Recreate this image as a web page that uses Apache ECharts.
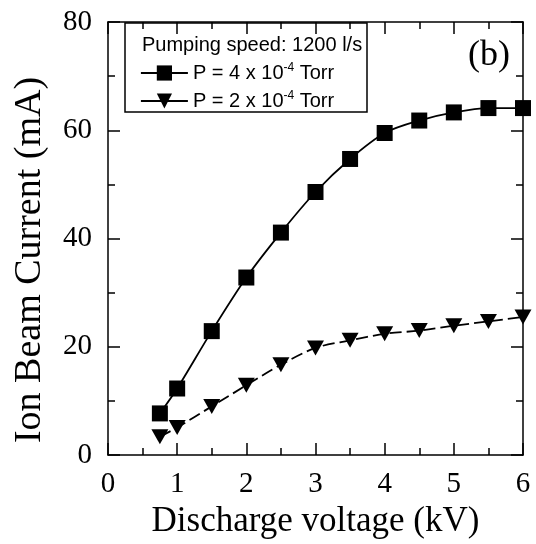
<!DOCTYPE html>
<html>
<head>
<meta charset="utf-8">
<script src="https://cdn.jsdelivr.net/npm/echarts@6/dist/echarts.min.js"></script>
<style>html,body{margin:0;padding:0;background:#fff;}#c{width:536px;height:544px;}</style>
</head>
<body>
<div id="c"></div>
<script>
// Data
var voltage = [0.75, 1, 1.5, 2, 2.5, 3, 3.5, 4, 4.5, 5, 5.5, 6];
var current4e4 = [7.7, 12.3, 22.9, 32.8, 41.1, 48.6, 54.7, 59.5, 61.8, 63.3, 64.1, 64.1];
var current2e4 = [3.4, 5.1, 9.0, 12.9, 16.7, 19.8, 21.2, 22.4, 23.0, 23.9, 24.7, 25.5];
var xTicks = [0, 1, 2, 3, 4, 5, 6];
var yTicks = [0, 20, 40, 60, 80];
var seriesNames = ['P = 4 x 10^-4 Torr', 'P = 2 x 10^-4 Torr'];
var legendTitle = 'Pumping speed: 1200 l/s';
var panelLabel = '(b)';
var xTitle = 'Discharge voltage (kV)';
var yTitle = 'Ion Beam Current (mA)';

function pairs(xs, ys) { return xs.map(function (x, i) { return [x, ys[i]]; }); }

var serif = 'Liberation Serif';
var sans = 'Liberation Sans';
var chart = echarts.init(document.getElementById('c'), null, { renderer: 'canvas' });

var axisCommon = {
  type: 'value',
  axisLine: { show: true, onZero: false, lineStyle: { color: '#000', width: 1.5 } },
  axisTick: { show: true, inside: true, length: 12, lineStyle: { color: '#000', width: 1.5 } },
  minorTick: { show: true, splitNumber: 2, length: 7, lineStyle: { color: '#000', width: 1.5 } },
  splitLine: { show: false }
};

var option = {
  animation: false,
  backgroundColor: '#fff',
  grid: { left: 108, right: 13, top: 22, bottom: 87 },
  xAxis: [
    Object.assign({}, axisCommon, {
      position: 'bottom', min: xTicks[0], max: xTicks[xTicks.length - 1], interval: 1,
      axisLabel: { fontFamily: serif, fontSize: 29, color: '#000', margin: 15 },
      name: xTitle, nameLocation: 'middle', nameGap: 42,
      nameTextStyle: { fontFamily: serif, fontSize: 35, color: '#000' }
    }),
    Object.assign({}, axisCommon, {
      position: 'top', min: xTicks[0], max: xTicks[xTicks.length - 1], interval: 1,
      axisLabel: { show: false }
    })
  ],
  yAxis: [
    Object.assign({}, axisCommon, {
      position: 'left', min: yTicks[0], max: yTicks[yTicks.length - 1], interval: 20,
      axisLabel: { fontFamily: serif, fontSize: 29, color: '#000', margin: 16 }
    }),
    Object.assign({}, axisCommon, {
      position: 'right', min: yTicks[0], max: yTicks[yTicks.length - 1], interval: 20,
      axisLabel: { show: false }
    })
  ],
  legend: {
    orient: 'vertical', left: 140, top: 62, padding: 0,
    itemWidth: 47, itemHeight: 19, itemGap: 7,
    data: seriesNames,
    lineStyle: { type: 'solid', width: 1.8, color: '#000' },
    formatter: function (name) {
      var m = name.match(/^(.*10)\^(-?\d+)(.*)$/);
      return '{a|' + m[1] + '}{s|' + m[2] + '}{a|' + m[3] + '}';
    },
    textStyle: {
      color: '#000', fontFamily: sans, fontSize: 20,
      rich: {
        a: { fontFamily: sans, fontSize: 20, color: '#000', lineHeight: 22 },
        s: { fontFamily: sans, fontSize: 12, color: '#000', verticalAlign: 'top', lineHeight: 22 }
      }
    }
  },
  graphic: [
    { type: 'rect', z: 0, shape: { x: 125, y: 23, width: 242, height: 89 },
      style: { fill: '#fff', stroke: '#000', lineWidth: 1.5 } },
    { type: 'text', z: 10, x: 142, y: 45,
      style: { text: legendTitle, font: '20px "Liberation Sans"', fill: '#000', verticalAlign: 'middle' } },
    { type: 'text', z: 10, x: 468, y: 56,
      style: { text: panelLabel, font: '36px "Liberation Serif"', fill: '#000', verticalAlign: 'middle' } },
    { type: 'text', z: 10, x: 30, y: 260, rotation: Math.PI / 2,
      style: { text: yTitle, font: '38px "Liberation Serif"', fill: '#000', align: 'center', verticalAlign: 'middle' } }
  ],
  series: [
    {
      name: seriesNames[0], type: 'line', xAxisIndex: 0, yAxisIndex: 0,
      data: pairs(voltage, current4e4),
      symbol: 'rect', symbolSize: 16,
      itemStyle: { color: '#000' },
      lineStyle: { color: '#000', width: 1.8, type: 'solid' },
      smooth: 0.3
    },
    {
      name: seriesNames[1], type: 'line', xAxisIndex: 0, yAxisIndex: 0,
      data: pairs(voltage, current2e4),
      symbol: 'path://M0,0 L10,0 L5,9 Z', symbolSize: [17, 15],
      itemStyle: { color: '#000' },
      lineStyle: { color: '#000', width: 1.8, type: [12, 5] },
      smooth: 0.3
    }
  ]
};
chart.setOption(option);
</script>
</body>
</html>
